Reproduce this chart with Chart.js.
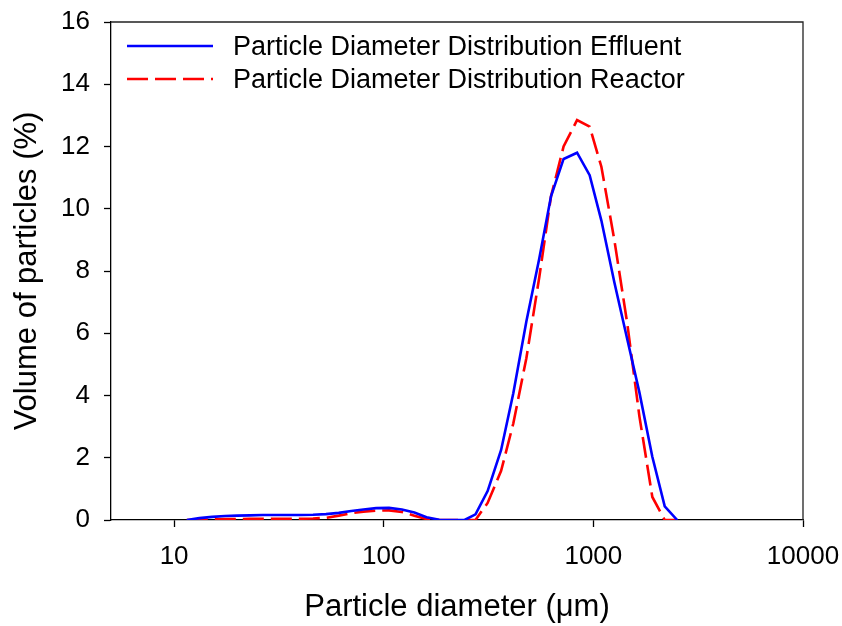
<!DOCTYPE html>
<html>
<head>
<meta charset="utf-8">
<script src="https://cdn.jsdelivr.net/npm/chart.js@4/dist/chart.umd.min.js"></script>
<style>
  html, body { margin: 0; padding: 0; background: #fff; }
  #wrap { width: 842px; height: 626px; }
</style>
</head>
<body>
<div id="wrap"><canvas id="psd" width="842" height="626"></canvas></div>
<script>
// particle diameter bins (um) and volume %
const diameters = [11.5, 13.2, 15.2, 17.5, 20, 23, 26.5, 30.5, 35, 40, 46, 53, 61, 70, 80, 92, 106, 122, 140, 160, 184, 211, 243, 274, 313, 363, 415, 479, 552, 628, 721, 836, 960, 1092, 1259, 1452, 1658, 1911, 2190, 2511];
const effluent = [0, 0.06, 0.1, 0.13, 0.14, 0.15, 0.16, 0.16, 0.16, 0.16, 0.17, 0.19, 0.23, 0.29, 0.34, 0.38, 0.39, 0.34, 0.24, 0.09, 0.01, 0, 0, 0.18, 0.93, 2.25, 4.07, 6.38, 8.4, 10.4, 11.6, 11.8, 11.08, 9.62, 7.64, 5.8, 4.1, 2.03, 0.44, 0];
const reactor = [0, 0.01, 0.02, 0.03, 0.03, 0.04, 0.04, 0.04, 0.04, 0.04, 0.05, 0.07, 0.14, 0.22, 0.27, 0.30, 0.31, 0.26, 0.14, 0.03, 0, 0, 0, 0, 0.55, 1.58, 3.1, 5.2, 7.8, 10.4, 12.0, 12.85, 12.64, 11.35, 9.0, 6.3, 3.33, 0.74, 0, 0];
const seriesNames = ["Particle Diameter Distribution Effluent", "Particle Diameter Distribution Reactor"];
const xTicks = [10, 100, 1000, 10000];

const FONT = 'Arial, "Liberation Sans", sans-serif';

function toPoints(ys) {
    return diameters.map((d, i) => ({ x: d, y: ys[i] }));
}

// box around the plot (top + right sides)
const frame = {
    id: "frame",
    beforeDatasetsDraw(chart) {
        const a = chart.chartArea;
        const ctx = chart.ctx;
        ctx.save();
        ctx.strokeStyle = "#222";
        ctx.lineWidth = 1.3;
        ctx.beginPath();
        ctx.moveTo(a.left, a.top);
        ctx.lineTo(a.right, a.top);
        ctx.lineTo(a.right, a.bottom);
        ctx.stroke();
        ctx.restore();
    }
};

// legend drawn inside the plot, top left
const insideLegend = {
    id: "insideLegend",
    afterDraw(chart) {
        const ctx = chart.ctx;
        const rows = [46, 79];
        ctx.save();
        chart.data.datasets.forEach((ds, i) => {
            const y = rows[i];
            ctx.strokeStyle = ds.borderColor;
            ctx.lineWidth = ds.borderWidth;
            ctx.setLineDash(ds.borderDash || []);
            ctx.beginPath();
            ctx.moveTo(127, y);
            ctx.lineTo(213, y);
            ctx.stroke();
            ctx.setLineDash([]);
            ctx.fillStyle = "#000";
            ctx.font = "27px " + FONT;
            ctx.textBaseline = "alphabetic";
            ctx.textAlign = "left";
            ctx.fillText(ds.label, 233, y + 9);
        });
        ctx.restore();
    }
};

new Chart(document.getElementById("psd"), {
    type: "line",
    data: {
        datasets: [
            {
                label: seriesNames[0],
                data: toPoints(effluent),
                borderColor: "#0000ff",
                borderWidth: 2.6,
                pointRadius: 0,
                tension: 0,
                fill: false
            },
            {
                label: seriesNames[1],
                data: toPoints(reactor),
                borderColor: "#ff0000",
                borderWidth: 2.6,
                borderDash: [21, 7],
                pointRadius: 0,
                tension: 0,
                fill: false
            }
        ]
    },
    options: {
        responsive: false,
        animation: false,
        layout: { padding: { left: 0, right: 39, top: 22, bottom: 0 } },
        plugins: {
            legend: { display: false },
            tooltip: { enabled: false }
        },
        scales: {
            x: {
                type: "logarithmic",
                min: 5,
                max: 10000,
                afterBuildTicks(scale) {
                    scale.ticks = xTicks.map(v => ({ value: v }));
                },
                afterFit(scale) {
                    scale.height = 106;
                    scale.paddingLeft = 0;
                    scale.paddingRight = 0;
                },
                ticks: {
                    callback: v => String(v),
                    color: "#000",
                    font: { family: FONT, size: 26 },
                    padding: 14,
                    maxRotation: 0,
                    autoSkip: false
                },
                grid: {
                    drawOnChartArea: false,
                    drawTicks: true,
                    tickLength: 7,
                    tickColor: "#000",
                    tickWidth: 1.3
                },
                border: { display: true, color: "#000", width: 1.3 },
                title: {
                    display: true,
                    text: "Particle diameter (\u03bcm)",
                    color: "#000",
                    font: { family: FONT, size: 31 },
                    padding: { top: 0, bottom: 0 }
                }
            },
            y: {
                min: 0,
                max: 16,
                afterFit(scale) {
                    scale.width = 111;
                    scale.paddingTop = 0;
                    scale.paddingBottom = 0;
                },
                ticks: {
                    stepSize: 2,
                    color: "#000",
                    font: { family: FONT, size: 26 },
                    padding: 14
                },
                grid: {
                    drawOnChartArea: false,
                    drawTicks: true,
                    tickLength: 7,
                    tickColor: "#000",
                    tickWidth: 1.3
                },
                border: { display: true, color: "#000", width: 1.3 },
                title: {
                    display: true,
                    text: "Volume of particles (%)",
                    color: "#000",
                    font: { family: FONT, size: 31 },
                    padding: { top: 9, bottom: 0 }
                }
            }
        }
    },
    plugins: [frame, insideLegend]
});
</script>
</body>
</html>
